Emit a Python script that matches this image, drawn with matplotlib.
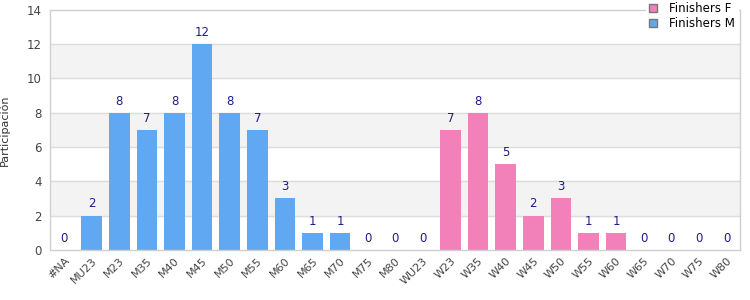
import numpy as np
import matplotlib.pyplot as plt

categories = ['#NA', 'MU23', 'M23', 'M35', 'M40', 'M45', 'M50', 'M55', 'M60', 'M65',
              'M70', 'M75', 'M80', 'WU23', 'W23', 'W35', 'W40', 'W45', 'W50', 'W55',
              'W60', 'W65', 'W70', 'W75', 'W80']
male_values = [0, 2, 8, 7, 8, 12, 8, 7, 3, 1, 1, 0, 0]
female_values = [0, 7, 8, 5, 2, 3, 1, 1, 0, 0, 0, 0]

n_male = len(male_values)
x_male = np.arange(n_male)
x_female = np.arange(n_male, n_male + len(female_values))

blue = '#60a8f2'
pink = '#f281b9'
label_col = '#1c1c8a'

fig = plt.figure(figsize=(7.5, 3), dpi=100)
ax = fig.add_axes([0.067, 0.167, 0.92, 0.80])

# alternating bands
for lo in range(2, 14, 4):
    ax.axhspan(lo, lo + 2, color='#f3f3f3', zorder=0)
for y in range(2, 14, 2):
    ax.axhline(y, color='#dddddd', lw=1, zorder=1)

ax.bar(x_female, female_values, width=0.75, color=pink, label='Finishers F', zorder=2)
ax.bar(x_male, male_values, width=0.75, color=blue, label='Finishers M', zorder=2)

for xs, vals in ((x_male, male_values), (x_female, female_values)):
    for x, v in zip(xs, vals):
        ax.text(x, v + 0.3, str(v), ha='center', va='bottom', fontsize=8.5,
                color=label_col, zorder=3)

ax.set_xlim(-0.5, len(categories) - 0.5)
ax.set_ylim(0, 14)
ax.set_yticks(range(0, 15, 2))
ax.set_xticks(np.arange(len(categories)))
ax.set_xticklabels(categories, rotation=45, ha='right', rotation_mode='anchor',
                   fontsize=8, color='#444444')
ax.tick_params(axis='y', labelsize=8.5, labelcolor='#444444', length=0, pad=6)
ax.tick_params(axis='x', length=0, pad=4)
ax.set_ylabel('Participación', fontsize=8, color='#333333', labelpad=12)

for s in ax.spines.values():
    s.set_color('#d0d0d0')
    s.set_linewidth(1)

leg = ax.legend(loc='upper right', bbox_to_anchor=(1.005, 1.07), fontsize=8.5,
                frameon=True, handlelength=0.7, handleheight=0.7,
                borderpad=0.25, labelspacing=0.2, handletextpad=1.0)
leg.get_frame().set_edgecolor('white')
leg.get_frame().set_facecolor('white')
leg.get_frame().set_alpha(1)
for h in leg.legend_handles:
    h.set_edgecolor('#777777')
    h.set_linewidth(1)
leg.set_zorder(5)

fig.savefig('out.png', dpi=100)
